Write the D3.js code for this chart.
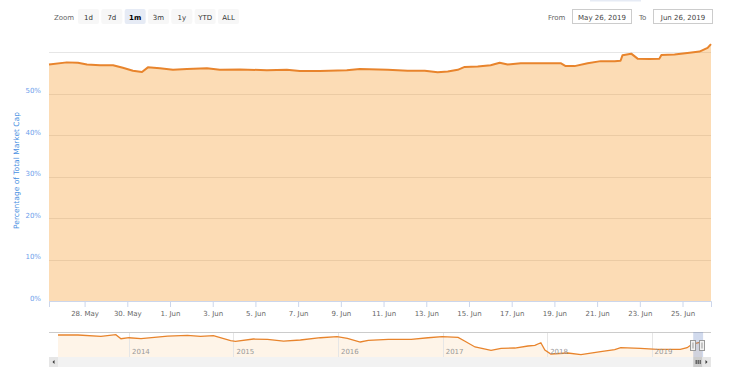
<!DOCTYPE html>
<html>
<head>
<meta charset="utf-8">
<script src="https://cdn.jsdelivr.net/npm/d3@7"></script>
<style>
  body { margin: 0; background: #fff; }
  svg { display: block; font-family: "DejaVu Sans", sans-serif; }
</style>
</head>
<body>
<div id="chart"></div>
<script>
// Main series (last month), share of total market cap in %
const mainTimes = [
    '2019-05-26T08:00', '2019-05-27T04:00', '2019-05-27T16:30', '2019-05-28T02:40',
    '2019-05-28T17:20', '2019-05-29T08:00', '2019-05-29T19:00', '2019-05-30T06:20',
    '2019-05-30T16:30', '2019-05-30T23:10', '2019-05-31T12:40', '2019-06-01T03:20',
    '2019-06-01T19:00', '2019-06-02T17:30', '2019-06-03T08:00', '2019-06-04T06:30',
    '2019-06-05T12:50', '2019-06-06T11:20', '2019-06-07T01:50', '2019-06-08T00:20',
    '2019-06-09T06:40', '2019-06-09T21:20', '2019-06-11T04:40', '2019-06-12T03:10',
    '2019-06-12T22:20', '2019-06-13T12:50', '2019-06-14T00:10', '2019-06-14T11:20',
    '2019-06-14T19:10', '2019-06-15T09:50', '2019-06-16T00:20', '2019-06-16T10:30',
    '2019-06-16T19:30', '2019-06-17T10:10', '2019-06-18T01:50', '2019-06-18T16:20',
    '2019-06-19T07:00', '2019-06-19T12:40', '2019-06-19T22:40', '2019-06-20T13:20',
    '2019-06-21T04:00', '2019-06-21T19:40', '2019-06-22T02:20', '2019-06-22T04:30',
    '2019-06-22T14:20', '2019-06-22T21:30', '2019-06-23T10:50', '2019-06-23T22:00',
    '2019-06-24T00:15', '2019-06-24T15:00', '2019-06-25T07:50', '2019-06-25T19:00',
    '2019-06-26T04:10', '2019-06-26T08:00'
];
const mainValues = [
    57.0, 57.5, 57.4, 57.0,
    56.8, 56.8, 56.2, 55.5,
    55.2, 56.3, 56.1, 55.7,
    55.9, 56.1, 55.7, 55.8,
    55.6, 55.7, 55.4, 55.4,
    55.6, 55.9, 55.7, 55.5,
    55.5, 55.1, 55.3, 55.7,
    56.4, 56.5, 56.8, 57.4,
    57.0, 57.3, 57.3, 57.3,
    57.3, 56.6, 56.6, 57.3,
    57.8, 57.8, 57.9, 59.2,
    59.6, 58.4, 58.3, 58.4,
    59.3, 59.4, 59.8, 60.1,
    61.0, 61.9
];

// Navigator series (full history)
const navDates = [
    '2013-04-28', '2013-07-07', '2013-09-25', '2013-11-16', '2013-12-04', '2014-01-01',
    '2014-02-12', '2014-05-16', '2014-07-24', '2014-09-08', '2014-10-23', '2014-12-22',
    '2015-01-08', '2015-03-12', '2015-04-30', '2015-06-25', '2015-08-23', '2015-11-01',
    '2015-12-29', '2016-02-03', '2016-03-19', '2016-04-16', '2016-06-25', '2016-09-13',
    '2016-11-11', '2016-12-30', '2017-02-24', '2017-03-20', '2017-04-24', '2017-06-19',
    '2017-07-24', '2017-09-10', '2017-10-26', '2017-11-19', '2017-12-10', '2017-12-24',
    '2018-01-14', '2018-03-14', '2018-04-29', '2018-07-07', '2018-08-25', '2018-09-15',
    '2018-11-23', '2019-01-21', '2019-04-11', '2019-05-05', '2019-05-23', '2019-06-26'
];
const navValues = [
    77.2, 77.2, 74.3, 77.9, 68.9, 71.1,
    68.9, 74.9, 76.5, 74.3, 75.6, 64.4,
    63.1, 68.2, 67.5, 63.7, 66.0, 71.1,
    73.4, 69.8, 61.5, 65.3, 67.5, 67.5,
    71.1, 73.4, 72.0, 63.1, 50.3, 42.9,
    47.4, 48.0, 52.5, 54.1, 59.9, 43.5,
    34.6, 36.8, 33.0, 39.7, 44.2, 48.7,
    47.4, 45.1, 45.1, 48.7, 57.0, 62.0
];

const yTicks = [0, 10, 20, 30, 40, 50];
const yGrid = [0, 10, 20, 30, 40, 50, 60];
const zoomButtons = ['1d', '7d', '1m', '3m', '1y', 'YTD', 'ALL'];
const selectedButton = '1m';
const fromLabel = 'May 26, 2019';
const toLabel = 'Jun 26, 2019';
const yTitle = 'Percentage of Total Market Cap';

const W = 736, H = 372;
const plot = { left: 49, right: 711, top: 52, bottom: 301 };
const nav = { left: 58, right: 702, top: 332, bottom: 357 };
const lineColor = '#e8842c';
const fillColor = '#f7931a';

const parseTime = d3.timeParse('%Y-%m-%dT%H:%M');
const parseDay = d3.timeParse('%Y-%m-%d');
const mainData = mainTimes.map((t, i) => ({ date: parseTime(t), value: mainValues[i] }));
const navData = navDates.map((t, i) => ({ date: parseDay(t), value: navValues[i] }));

const svg = d3.select('#chart').append('svg')
    .attr('width', W)
    .attr('height', H);

// Scales
const x = d3.scaleTime()
    .domain([parseTime('2019-05-26T08:00'), parseTime('2019-06-26T08:00')])
    .range([plot.left, plot.right]);
const y = d3.scaleLinear()
    .domain([0, 60])
    .range([plot.bottom, plot.top]);

// Grid lines
svg.append('g')
    .selectAll('line')
    .data(yGrid)
    .join('line')
    .attr('x1', plot.left)
    .attr('x2', plot.right)
    .attr('y1', d => Math.round(y(d)) + 0.5)
    .attr('y2', d => Math.round(y(d)) + 0.5)
    .attr('stroke', '#e6e6e6');

// Area + line
const area = d3.area()
    .x(d => x(d.date))
    .y0(y(0))
    .y1(d => y(d.value));
const line = d3.line()
    .x(d => x(d.date))
    .y(d => y(d.value));

svg.append('path')
    .datum(mainData)
    .attr('fill', fillColor)
    .attr('fill-opacity', 0.32)
    .attr('d', area);

svg.append('path')
    .datum(mainData)
    .attr('fill', 'none')
    .attr('stroke', lineColor)
    .attr('stroke-width', 2)
    .attr('stroke-linejoin', 'round')
    .attr('d', line);

// X axis
const xTicks = d3.timeDay.range(parseTime('2019-05-28T00:00'), x.domain()[1], 2);
const xAxis = svg.append('g')
    .attr('transform', `translate(0,${plot.bottom})`)
    .call(d3.axisBottom(x)
        .tickValues(xTicks)
        .tickFormat(d3.timeFormat('%-d. %b'))
        .tickSizeOuter(0)
        .tickSize(6)
        .tickPadding(4));
xAxis.select('.domain').attr('stroke', '#ccd6eb');
xAxis.selectAll('.tick line').attr('stroke', '#ccd6eb');
xAxis.selectAll('.tick text')
    .attr('fill', '#666')
    .style('font-size', '7px')
    .style('font-family', '"DejaVu Sans", sans-serif');

// Y labels
svg.append('g')
    .selectAll('text')
    .data(yTicks)
    .join('text')
    .attr('x', 41)
    .attr('y', d => y(d) - 0.5)
    .attr('text-anchor', 'end')
    .attr('fill', '#6d9eeb')
    .style('font-size', '7px')
    .text(d => d + '%');

// Y title
svg.append('text')
    .attr('transform', `translate(19,${(plot.top + plot.bottom) / 2 - 6}) rotate(-90)`)
    .attr('text-anchor', 'middle')
    .attr('fill', '#4a90e2')
    .style('font-size', '7.5px')
    .text(yTitle);

// Range selector
svg.append('text')
    .attr('x', 54)
    .attr('y', 19.5)
    .attr('fill', '#666')
    .style('font-size', '7px')
    .text('Zoom');

const btnX = d3.scalePoint()
    .domain(zoomButtons)
    .range([78, 218]);
const btn = svg.append('g')
    .selectAll('g')
    .data(zoomButtons)
    .join('g')
    .attr('transform', d => `translate(${btnX(d)},9)`);
btn.append('rect')
    .attr('width', 21)
    .attr('height', 15)
    .attr('rx', 2)
    .attr('fill', d => d === selectedButton ? '#e6ebf5' : '#f7f7f7');
btn.append('text')
    .attr('x', 10.5)
    .attr('y', 10.5)
    .attr('text-anchor', 'middle')
    .attr('fill', d => d === selectedButton ? '#000' : '#333')
    .style('font-weight', d => d === selectedButton ? 'bold' : 'normal')
    .style('font-size', '7px')
    .text(d => d);

// Date inputs
svg.append('rect')
    .attr('x', 590).attr('y', 0)
    .attr('width', 51).attr('height', 1.5)
    .attr('fill', '#e6ebf5');

const inputs = [
    { label: 'From', lx: 548, bx: 572, text: fromLabel },
    { label: 'To', lx: 639, bx: 653, text: toLabel }
];
const inp = svg.append('g').selectAll('g').data(inputs).join('g');
inp.append('text')
    .attr('x', d => d.lx)
    .attr('y', 19.5)
    .attr('fill', '#666')
    .style('font-size', '7px')
    .text(d => d.label);
inp.append('rect')
    .attr('x', d => d.bx + 0.5)
    .attr('y', 9.5)
    .attr('width', 59)
    .attr('height', 14)
    .attr('fill', '#fff')
    .attr('stroke', '#cccccc');
inp.append('text')
    .attr('x', d => d.bx + 30)
    .attr('y', 19.5)
    .attr('text-anchor', 'middle')
    .attr('fill', '#444')
    .style('font-size', '7px')
    .text(d => d.text);

// Navigator
const nx = d3.scaleTime()
    .domain(d3.extent(navData, d => d.date))
    .range([nav.left, nav.right]);
const ny = d3.scaleLinear()
    .domain(d3.extent(navData, d => d.value))
    .range([nav.bottom - 2.3, nav.top + 2.7]);

svg.append('path')
    .datum(navData)
    .attr('fill', fillColor)
    .attr('fill-opacity', 0.1)
    .attr('d', d3.area().x(d => nx(d.date)).y0(nav.bottom).y1(d => ny(d.value)));

svg.append('g')
    .selectAll('line')
    .data(nx.ticks(d3.timeYear.every(1)))
    .join('line')
    .attr('x1', d => Math.round(nx(d)) + 0.5)
    .attr('x2', d => Math.round(nx(d)) + 0.5)
    .attr('y1', nav.top)
    .attr('y2', nav.bottom)
    .attr('stroke', '#e6e6e6');

svg.append('path')
    .datum(navData)
    .attr('fill', 'none')
    .attr('stroke', lineColor)
    .attr('stroke-width', 1.3)
    .attr('d', d3.line().x(d => nx(d.date)).y(d => ny(d.value)));

svg.append('g')
    .selectAll('text')
    .data(nx.ticks(d3.timeYear.every(1)))
    .join('text')
    .attr('x', d => nx(d) + 3)
    .attr('y', 354)
    .attr('fill', '#999')
    .style('font-size', '7px')
    .text(d3.timeFormat('%Y'));

svg.append('line')
    .attr('x1', plot.left).attr('x2', plot.right)
    .attr('y1', nav.top + 0.5).attr('y2', nav.top + 0.5)
    .attr('stroke', '#cccccc');

// Selected range mask + handles
const selX0 = nx(x.domain()[0]);
const selX1 = nx(x.domain()[1]);
svg.append('rect')
    .attr('x', selX0)
    .attr('y', nav.top)
    .attr('width', selX1 - selX0 + 1)
    .attr('height', nav.bottom - nav.top)
    .attr('fill', 'rgba(102,133,194,0.3)');

[selX0, selX1].forEach(hx => {
    const g = svg.append('g').attr('transform', `translate(${Math.round(hx) - 2.5},340.5)`);
    g.append('rect')
        .attr('width', 5).attr('height', 10)
        .attr('fill', '#f2f2f2').attr('stroke', '#999');
    g.append('line')
        .attr('x1', 2.5).attr('x2', 2.5).attr('y1', 2).attr('y2', 8)
        .attr('stroke', '#999');
});

// Scrollbar
svg.append('rect')
    .attr('x', plot.left).attr('y', 357)
    .attr('width', plot.right - plot.left).attr('height', 10)
    .attr('fill', '#f2f2f2');
svg.append('rect')
    .attr('x', plot.left).attr('y', 357)
    .attr('width', 9).attr('height', 10)
    .attr('fill', '#e6e6e6');
svg.append('rect')
    .attr('x', plot.right - 9).attr('y', 357)
    .attr('width', 9).attr('height', 10)
    .attr('fill', '#e6e6e6');
svg.append('path')
    .attr('d', `M${plot.left + 5.5},360 L${plot.left + 5.5},364 L${plot.left + 3.5},362 Z`)
    .attr('fill', '#333');
svg.append('path')
    .attr('d', `M${plot.right - 5.5},360 L${plot.right - 5.5},364 L${plot.right - 3.5},362 Z`)
    .attr('fill', '#333');
svg.append('rect')
    .attr('x', selX0).attr('y', 357)
    .attr('width', selX1 - selX0).attr('height', 10)
    .attr('fill', '#cccccc');
[-2, 0, 2].forEach(o => {
    svg.append('line')
        .attr('x1', (selX0 + selX1) / 2 + o + 0.5)
        .attr('x2', (selX0 + selX1) / 2 + o + 0.5)
        .attr('y1', 360).attr('y2', 364)
        .attr('stroke', '#333');
});
</script>
</body>
</html>
